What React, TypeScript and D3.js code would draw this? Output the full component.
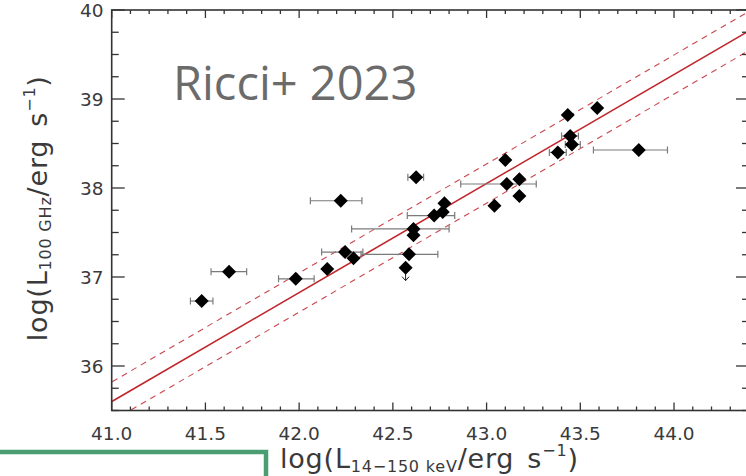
import React from "react";
import * as d3 from "d3";

// log L(14-150 keV) and log L(100 GHz) for each source
const logLx = [41.48, 41.626, 41.982, 42.15, 42.245, 42.29, 42.222, 42.624, 42.586, 42.568, 42.61, 42.61, 42.72, 42.775, 42.766, 43.042, 43.10, 43.108, 43.175, 43.175, 43.38, 43.433, 43.446, 43.455, 43.59, 43.812];
const logLmm = [36.73, 37.06, 36.98, 37.09, 37.28, 37.21, 37.857, 38.12, 37.255, 37.105, 37.54, 37.47, 37.69, 37.83, 37.73, 37.80, 38.315, 38.045, 38.098, 37.91, 38.40, 38.82, 38.584, 38.49, 38.90, 38.427];
// horizontal error bar extents (null = no bar)
const logLxLo: (number | null)[] = [41.42, 41.53, 41.89, null, 42.12, null, 42.06, 42.58, 42.33, null, 42.28, null, 42.577, null, null, null, null, 42.862, null, null, 43.335, null, 43.40, 43.42, null, 43.57];
const logLxHi: (number | null)[] = [41.54, 41.72, 42.08, null, 42.34, null, 42.335, 42.664, 42.74, null, 42.80, null, 42.83, null, null, null, null, 43.265, null, null, 43.425, null, 43.49, 43.50, null, 43.965];
// upper limits in the 100 GHz luminosity
const isUpperLimit = [false, false, false, false, false, false, false, false, false, true, false, false, false, false, false, false, false, false, false, false, false, false, false, false, false, false];

// best-fit relation and its scatter
const fitSlope = 1.225;
const fitPivot = 43.0;
const fitAtPivot = 38.05;
const fitScatter = 0.22;

const xMajorTicks = [41.0, 41.5, 42.0, 42.5, 43.0, 43.5, 44.0];
const yMajorTicks = [36, 37, 38, 39, 40];

const W = 746;
const H = 476;
const left = 111.7;
const right = 749;
const top = 10;
const bottom = 410.5;

function AxisTitle({ sub }: { sub: string }) {
  return (
    <>
      log(L
      <tspan fontSize={16} dy={4}>{sub}</tspan>
      <tspan dy={-4}>/erg</tspan>
      <tspan dx={13}>s</tspan>
      <tspan fontSize={16} dy={-12}>−1</tspan>
      <tspan dy={12}>)</tspan>
    </>
  );
}

export default function App() {
  const x = d3.scaleLinear().domain([41, 44.4]).range([left, right]);
  const y = d3.scaleLinear().domain([35.5, 40]).range([bottom, top]);

  const xMinor = d3.range(41, 44.41, 0.1).map((v) => +v.toFixed(2));
  const yMinor = d3.range(35.5, 40.001, 0.25).map((v) => +v.toFixed(2));

  const fit = (v: number, off: number) => fitAtPivot + fitSlope * (v - fitPivot) + off;
  const fitPath = (off: number) =>
    d3.line<number>().x((v) => x(v)).y((v) => y(fit(v, off)))([40.8, 44.6]) || "";

  const axisColor = "#333";
  const textColor = "#3a3a3a";
  const red = "#c0272d";
  const errColor = "#7a7a7a";
  const dsize = 7;

  return (
    <svg width={W} height={H} style={{ position: "absolute", left: 0, top: 0, background: "#fff" }}>
      <defs>
        <clipPath id="plotArea">
          <rect x={left} y={top} width={right - left} height={bottom - top} />
        </clipPath>
      </defs>

      {/* fit lines */}
      <g clipPath="url(#plotArea)">
        <path d={fitPath(0)} stroke={red} strokeWidth={1.6} fill="none" />
        <path d={fitPath(fitScatter)} stroke={red} strokeWidth={1.1} strokeDasharray="6,5" fill="none" opacity={0.85} />
        <path d={fitPath(-fitScatter)} stroke={red} strokeWidth={1.1} strokeDasharray="6,5" fill="none" opacity={0.85} />
      </g>

      {/* error bars */}
      {logLx.map((v, i) => {
        const lo = logLxLo[i];
        const hi = logLxHi[i];
        if (lo == null || hi == null) return null;
        const yy = y(logLmm[i]);
        return (
          <g key={"e" + i} stroke={errColor} strokeWidth={1.2}>
            <line x1={x(lo)} x2={x(hi)} y1={yy} y2={yy} />
            <line x1={x(lo)} x2={x(lo)} y1={yy - 3.5} y2={yy + 3.5} />
            <line x1={x(hi)} x2={x(hi)} y1={yy - 3.5} y2={yy + 3.5} />
          </g>
        );
      })}

      {/* upper-limit arrows */}
      {logLx.map((v, i) => {
        if (!isUpperLimit[i]) return null;
        const xx = x(v);
        const yy = y(logLmm[i]);
        return (
          <g key={"u" + i} stroke="#222" strokeWidth={1} fill="none">
            <line x1={xx} x2={xx} y1={yy} y2={yy + 13} />
            <path d={`M${xx - 3.5},${yy + 9} L${xx},${yy + 13} L${xx + 3.5},${yy + 9}`} />
          </g>
        );
      })}

      {/* diamonds */}
      {logLx.map((v, i) => {
        const xx = x(v);
        const yy = y(logLmm[i]);
        return (
          <path
            key={"d" + i}
            d={`M${xx},${yy - dsize} L${xx + dsize},${yy} L${xx},${yy + dsize} L${xx - dsize},${yy} Z`}
            fill="#000"
          />
        );
      })}

      {/* frame */}
      <rect x={left} y={top} width={right - left} height={bottom - top} fill="none" stroke={axisColor} strokeWidth={1.6} />

      {/* x ticks, bottom and top */}
      {xMinor.map((v) => {
        const major = xMajorTicks.some((m) => Math.abs(m - v) < 1e-6);
        const len = major ? 8 : 4;
        return (
          <g key={"xt" + v} stroke={axisColor} strokeWidth={1.3}>
            <line x1={x(v)} x2={x(v)} y1={bottom} y2={bottom - len} />
            <line x1={x(v)} x2={x(v)} y1={top} y2={top + len} />
          </g>
        );
      })}
      {/* y ticks, left and right */}
      {yMinor.map((v) => {
        const major = yMajorTicks.some((m) => Math.abs(m - v) < 1e-6);
        const len = major ? 13 : 7;
        return (
          <g key={"yt" + v} stroke={axisColor} strokeWidth={1.3}>
            <line x1={left} x2={left + len} y1={y(v)} y2={y(v)} />
            <line x1={right} x2={right - len} y1={y(v)} y2={y(v)} />
          </g>
        );
      })}

      {/* tick labels */}
      <g fontFamily="DejaVu Sans" fontSize={18.5} fill={textColor}>
        {xMajorTicks.map((v) => (
          <text key={"xl" + v} x={x(v)} y={440} textAnchor="middle">
            {v.toFixed(1)}
          </text>
        ))}
        {yMajorTicks.map((v) => (
          <text key={"yl" + v} x={103.5} y={y(v) + 6.7} textAnchor="end">
            {v}
          </text>
        ))}
      </g>

      {/* axis titles */}
      <text x={280} y={468} fontFamily="DejaVu Sans" fontSize={27} letterSpacing={0.8} fill={textColor}>
        <AxisTitle sub="14−150 keV" />
      </text>
      <text
        transform={`translate(47,${(top + bottom) / 2 - 2}) rotate(-90)`}
        textAnchor="middle"
        fontFamily="DejaVu Sans"
        fontSize={27}
        letterSpacing={0.8}
        fill={textColor}
      >
        <AxisTitle sub="100 GHz" />
      </text>

      <text x={173} y={100} fontFamily="Open Sans" fontSize={47} fill="#6b6b6b">
        Ricci+ 2023
      </text>

      {/* framed panel in the lower left */}
      <rect x={-10} y={452} width={276} height={60} fill="#fff" stroke="#4a9e72" strokeWidth={4.5} />
    </svg>
  );
}
